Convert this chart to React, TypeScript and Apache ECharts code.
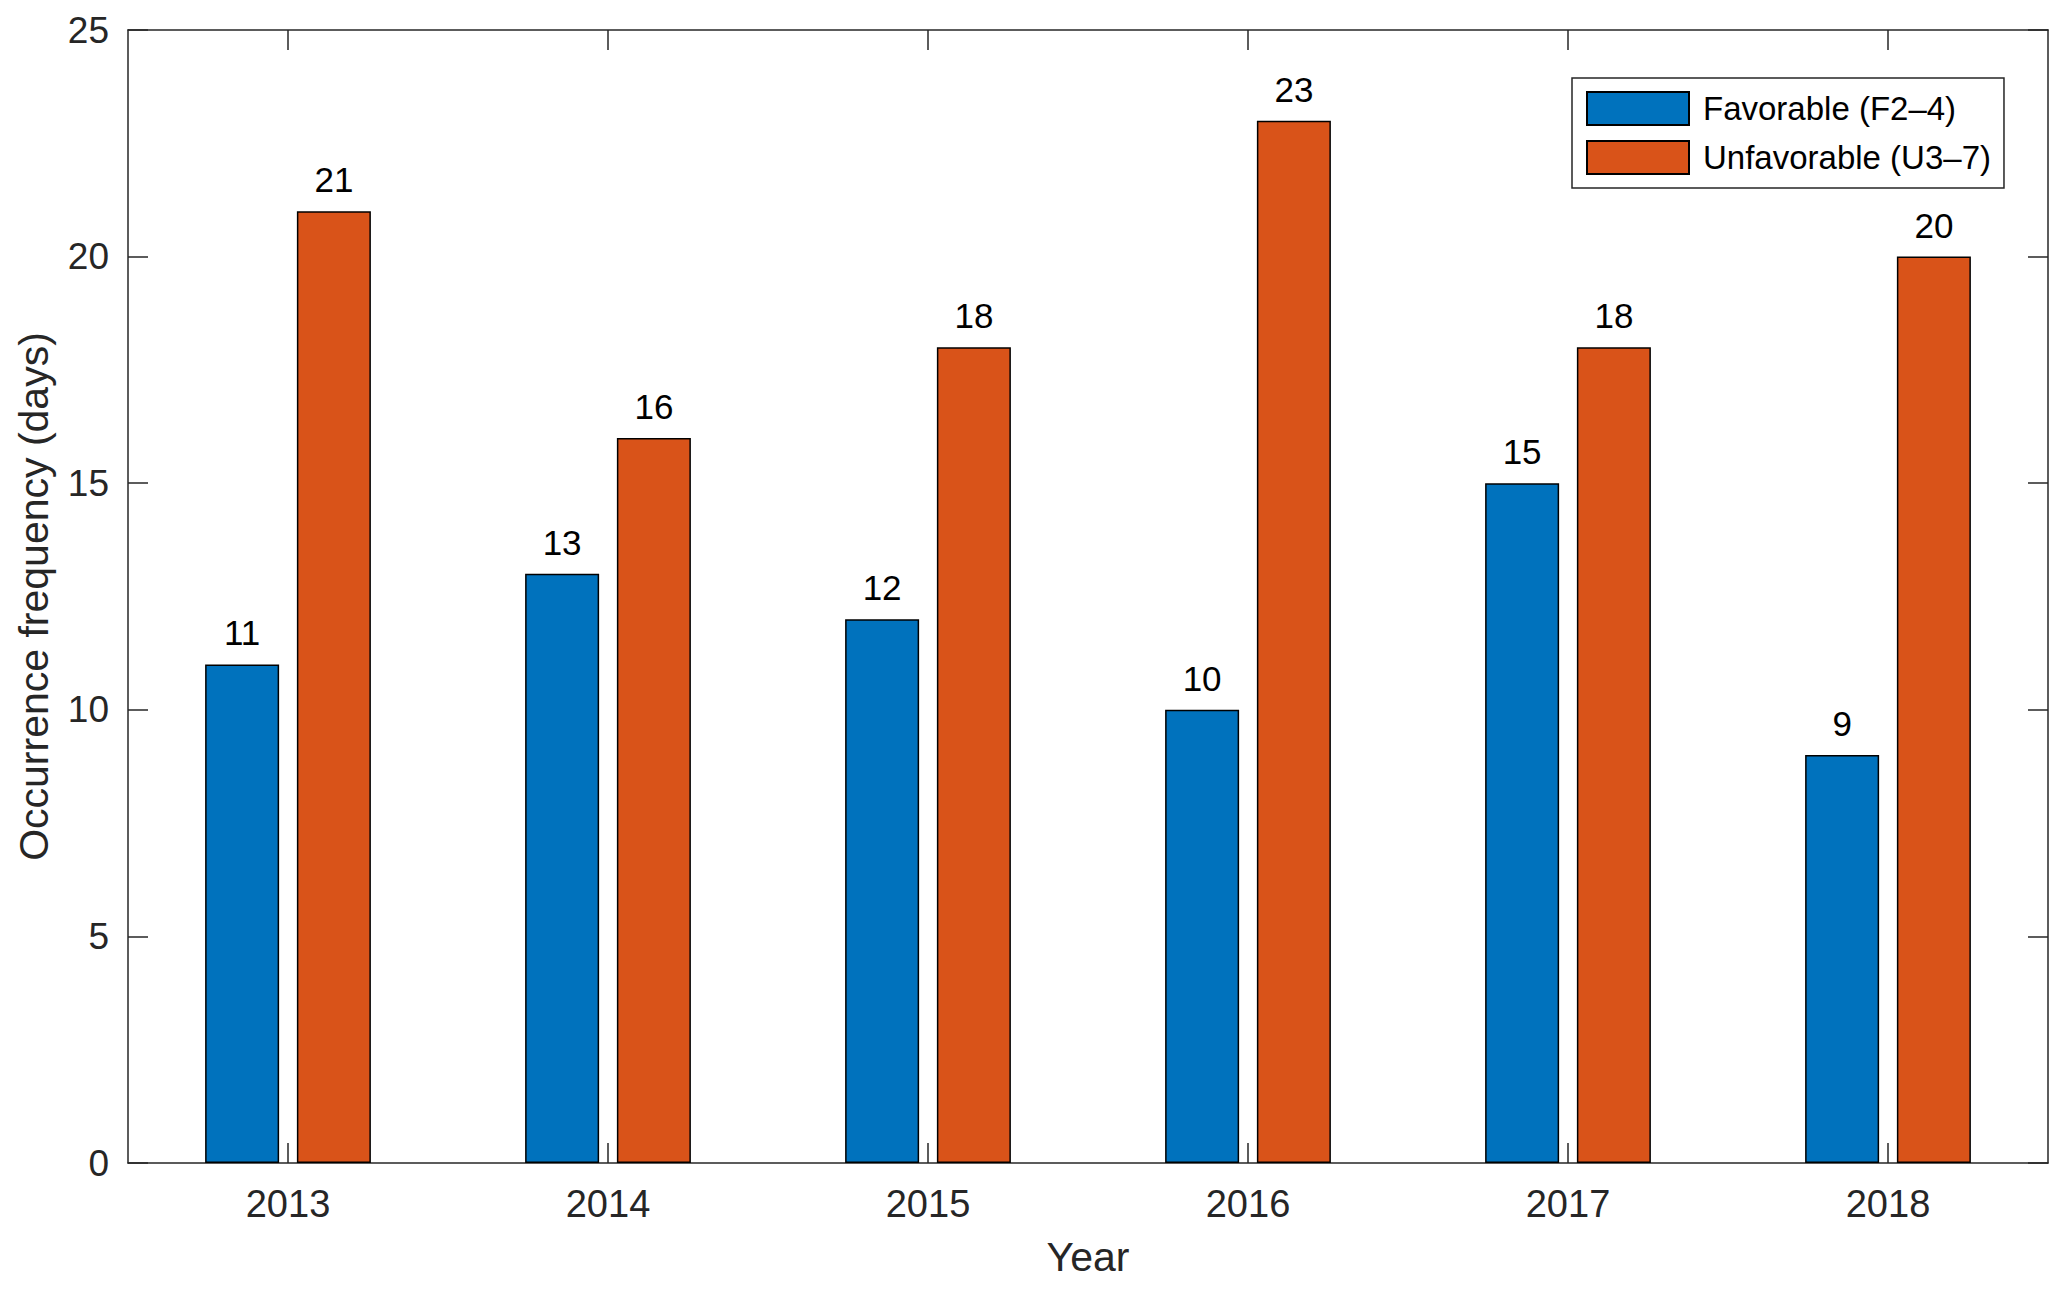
import React, { useEffect, useRef } from "react";
import * as echarts from "echarts";

const years = ["2013", "2014", "2015", "2016", "2017", "2018"];
const favorable = [11, 13, 12, 10, 15, 9];
const unfavorable = [21, 16, 18, 23, 18, 20];
const seriesNames = ["Favorable (F2\u20134)", "Unfavorable (U3\u20137)"];
const yTicks = { min: 0, max: 25, interval: 5 };

const FONT = "'Liberation Sans', Arial, Helvetica, sans-serif";
const AXIS_COLOR = "#262626";

export default function App() {
  const ref = useRef<HTMLDivElement>(null);

  useEffect(() => {
    if (!ref.current) return;
    const chart = echarts.init(ref.current, null, { renderer: "svg" });
    const axisLine = { show: true, onZero: false, lineStyle: { color: AXIS_COLOR, width: 1.5 } };
    const tick = { show: true, inside: true, length: 20, lineStyle: { color: AXIS_COLOR, width: 1.5 } };
    const label = {
      show: true,
      position: "top",
      distance: 14,
      color: "#000",
      fontSize: 35,
      fontFamily: FONT,
    };
    chart.setOption({
      animation: false,
      backgroundColor: "#fff",
      textStyle: { fontFamily: FONT },
      grid: { left: 128, right: 19, top: 30, bottom: 126, containLabel: false },
      legend: {
        left: 1572,
        top: 78,
        orient: "vertical",
        itemWidth: 102,
        itemHeight: 33,
        itemGap: 14,
        padding: [13, 13, 13, 14],
        borderColor: AXIS_COLOR,
        borderWidth: 1.5,
        backgroundColor: "#fff",
        icon: "rect",
        textStyle: { fontSize: 33, color: "#000", fontFamily: FONT, padding: [0, 0, 0, 9] },
        data: seriesNames,
      },
      xAxis: [
        {
          type: "category",
          data: years,
          position: "bottom",
          name: "Year",
          nameLocation: "middle",
          nameGap: 73,
          nameTextStyle: { fontSize: 41, color: AXIS_COLOR, fontFamily: FONT },
          axisLine,
          axisTick: { ...tick, alignWithLabel: true },
          axisLabel: { fontSize: 38, color: AXIS_COLOR, margin: 22, fontFamily: FONT },
          splitLine: { show: false },
        },
        {
          type: "category",
          data: years,
          position: "top",
          axisLine,
          axisTick: { ...tick, alignWithLabel: true },
          axisLabel: { show: false },
          splitLine: { show: false },
        },
      ],
      yAxis: [
        {
          type: "value",
          min: yTicks.min,
          max: yTicks.max,
          interval: yTicks.interval,
          position: "left",
          name: "Occurrence frequency (days)",
          nameLocation: "middle",
          nameGap: 74,
          nameTextStyle: { fontSize: 41, color: AXIS_COLOR, fontFamily: FONT },
          axisLine,
          axisTick: tick,
          axisLabel: { fontSize: 37, color: AXIS_COLOR, margin: 19, fontFamily: FONT },
          splitLine: { show: false },
        },
        {
          type: "value",
          min: yTicks.min,
          max: yTicks.max,
          interval: yTicks.interval,
          position: "right",
          axisLine,
          axisTick: tick,
          axisLabel: { show: false },
          splitLine: { show: false },
        },
      ],
      series: [
        {
          name: seriesNames[0],
          type: "bar",
          data: favorable,
          barWidth: 74,
          barGap: "24%",
          itemStyle: { color: "#0072BD", borderColor: "#000", borderWidth: 1.5 },
          label,
        },
        {
          name: seriesNames[1],
          type: "bar",
          data: unfavorable,
          barWidth: 74,
          barGap: "24%",
          itemStyle: { color: "#D95319", borderColor: "#000", borderWidth: 1.5 },
          label,
        },
      ],
    });
    return () => chart.dispose();
  }, []);

  return (
    <div
      ref={ref}
      style={{ position: "absolute", left: 0, top: 0, width: 2067, height: 1289, background: "#fff" }}
    />
  );
}
